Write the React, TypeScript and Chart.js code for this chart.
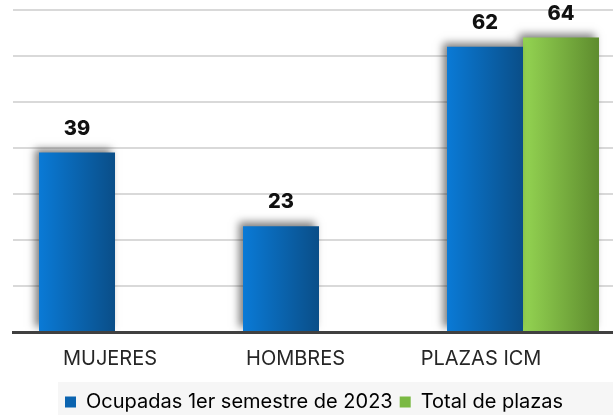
import React, { useEffect, useRef } from 'react';
import { Chart, registerables } from 'chart.js';

Chart.register(...registerables);

// ---- data ----
const categories = ['MUJERES', 'HOMBRES', 'PLAZAS ICM'];
const seriesNames = ['Ocupadas 1er semestre de 2023', 'Total de plazas'];
const ocupadas: (number | null)[] = [39, 23, 62];
const totalPlazas: (number | null)[] = [null, null, 64];
const yMin = 0;
const yMax = 70;
const yStep = 10;

// ---- styles ----
const FONT = 'Inter, "Open Sans", sans-serif';
const TEXT = '#262626';
const CAT_PCT = 0.745;
const BLUE = ['#0a7ad6', '#0a4e88'];
const GREEN = ['#94d452', '#5e8c2e'];
const LEGEND_COLORS = ['#0b64b0', '#7ab943'];
const LEGEND_LEFT = 58;

function barGradient(c: any, colors: string[]) {
  const chart = c.chart;
  const xs = chart.scales?.x;
  if (!xs || !chart.chartArea || c.type !== 'data') return colors[0];
  const center = xs.getPixelForValue(c.dataIndex);
  const catW = xs.width / categories.length;
  const group = catW * CAT_PCT;
  const barW = group / 2;
  const left = center - group / 2 + c.datasetIndex * barW;
  const g = chart.ctx.createLinearGradient(left, 0, left + barW, 0);
  g.addColorStop(0, colors[0]);
  g.addColorStop(1, colors[1]);
  return g;
}

const shadowPlugin = {
  id: 'barShadow',
  beforeDatasetsDraw(chart: any) {
    const ctx = chart.ctx;
    ctx.save();
    ctx.shadowColor = 'rgba(0,0,0,0.5)';
    ctx.shadowBlur = 8;
    ctx.shadowOffsetX = -4;
    ctx.shadowOffsetY = -4;
  },
  afterDatasetsDraw(chart: any) {
    const ctx = chart.ctx;
    ctx.restore();
    ctx.save();
    ctx.font = `800 20px ${FONT}`;
    ctx.fillStyle = '#111111';
    ctx.textAlign = 'center';
    ctx.textBaseline = 'alphabetic';
    chart.data.datasets.forEach((ds: any, di: number) => {
      const meta = chart.getDatasetMeta(di);
      meta.data.forEach((el: any, i: number) => {
        const v = ds.data[i];
        if (v === null || v === undefined) return;
        ctx.fillText(String(v), el.x, el.y - 18);
      });
    });
    ctx.restore();
  },
};

const legendPlugin = {
  id: 'legendPlace',
  afterLayout(chart: any) {
    const lg = chart.legend;
    if (lg) {
      lg.left = LEGEND_LEFT;
      lg.right = chart.width;
    }
  },
  beforeDraw(chart: any) {
    const lg = chart.legend;
    const ctx = chart.ctx;
    ctx.save();
    ctx.fillStyle = '#ffffff';
    ctx.fillRect(0, 0, chart.width, chart.height);
    if (lg) {
      ctx.fillStyle = '#f6f6f6';
      ctx.fillRect(lg.left, lg.top - 3, lg.right - lg.left, lg.bottom - lg.top + 3);
    }
    ctx.restore();
  },
};

export default function App() {
  const ref = useRef<HTMLCanvasElement>(null);
  useEffect(() => {
    document.body.style.margin = '0';
    if (!ref.current) return;
    const chart = new Chart(ref.current, {
      type: 'bar',
      data: {
        labels: categories,
        datasets: [
          {
            label: seriesNames[0],
            data: ocupadas,
            backgroundColor: (c: any) => barGradient(c, BLUE),
            borderWidth: 0,
            categoryPercentage: CAT_PCT,
            barPercentage: 1,
          },
          {
            label: seriesNames[1],
            data: totalPlazas,
            backgroundColor: (c: any) => barGradient(c, GREEN),
            borderWidth: 0,
            categoryPercentage: CAT_PCT,
            barPercentage: 1,
          },
        ],
      },
      options: {
        animation: false,
        responsive: false,
        devicePixelRatio: 1,
        layout: { padding: { left: 13, right: 15, top: 10, bottom: 0 } },
        scales: {
          x: {
            type: 'category',
            offset: true,
            grid: { display: false, drawTicks: false },
            ticks: { display: false },
            border: { display: true, color: '#404040', width: 3, z: 1 },
          },
          xl: {
            type: 'linear',
            position: 'bottom',
            bounds: 'data',
            offset: false,
            min: -0.523,
            max: 2.776,
            grid: { display: false, drawTicks: false, offset: false },
            border: { display: false },
            afterBuildTicks: (s: any) => {
              s.ticks = categories.map((_, i) => ({ value: i }));
            },
            ticks: {
              autoSkip: false,
              maxRotation: 0,
              padding: 12,
              color: TEXT,
              font: { family: FONT, size: 20, lineHeight: 1.45 },
              callback: (v: any) => categories[v as number] ?? '',
            },
          },
          y: {
            min: yMin,
            max: yMax,
            ticks: { display: false, stepSize: yStep },
            border: { display: false },
            grid: { drawTicks: false, color: '#d9d9d9', lineWidth: 2 },
          },
        },
        plugins: {
          legend: {
            position: 'bottom',
            align: 'start',
            labels: {
              boxWidth: 11,
              boxHeight: 11,
              padding: 7,
              color: TEXT,
              font: { family: FONT, size: 20 },
              generateLabels: () =>
                seriesNames.map((t, i) => ({
                  text: t,
                  fillStyle: LEGEND_COLORS[i],
                  strokeStyle: LEGEND_COLORS[i],
                  lineWidth: 0,
                  hidden: false,
                  datasetIndex: i,
                })),
            },
          },
          tooltip: { enabled: false },
        },
      },
      plugins: [shadowPlugin, legendPlugin],
    });
    return () => chart.destroy();
  }, []);
  return (
    <div style={{ width: 613, height: 415, overflow: 'hidden', position: 'relative' }}>
      <canvas ref={ref} width={640} height={422} style={{ display: 'block' }} />
    </div>
  );
}
